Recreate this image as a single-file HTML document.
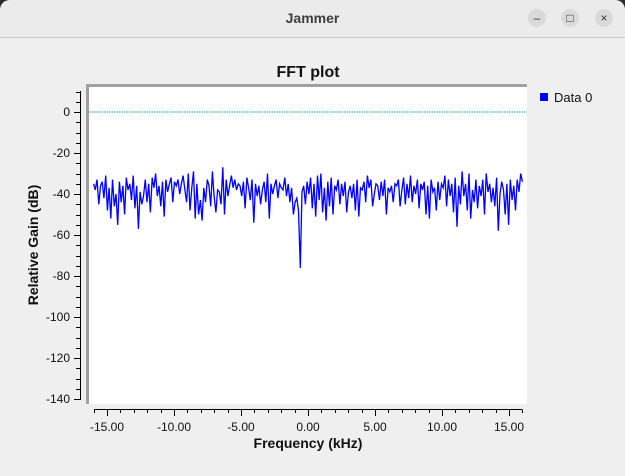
<!DOCTYPE html>
<html><head><meta charset="utf-8"><style>
body{margin:0;width:625px;height:476px;overflow:hidden;background:#2c2c2c;font-family:"Liberation Sans","DejaVu Sans",sans-serif}
#win{position:absolute;left:0;top:0;width:625px;height:476px;background:#efefef;border-radius:10px 10px 0 0;overflow:hidden}
#tb{position:absolute;left:0;top:0;width:625px;height:37px;background:#ebebeb;border-bottom:1px solid #c8c8c8}
#tt{position:absolute;left:0;width:625px;top:10px;text-align:center;font-size:14px;font-weight:bold;color:#3d3d3d}
.wb{position:absolute;top:9px;width:18px;height:18px;border-radius:9px;background:#dadada;color:#333;font-size:12px;text-align:center;line-height:18px}
</style></head><body>
<div id="win">
<div id="tb">
<div id="tt">Jammer</div>
<div class="wb" style="left:528px">–</div>
<div class="wb" style="left:561px">□</div>
<div class="wb" style="left:595px">×</div>
</div>
<svg id="chart" width="625" height="476" style="position:absolute;left:0;top:0"></svg>
</div>
<script>
const yTicks=[0,-20,-40,-60,-80,-100,-120,-140];
const yTickLabels=["0","-20","-40","-60","-80","-100","-120","-140"];
const xTicks=[-15,-10,-5,0,5,10,15];
const xTickLabels=["-15.00","-10.00","-5.00","0.00","5.00","10.00","15.00"];
const seriesName="Data 0";
const refLine=0;
const fStart=-16, fEnd=16;
const gains=[-35,-38,-33,-45,-36,-34,-42,-31,-48,-37,-52,-33,-46,-40,-55,-34,-44,-36,-50,-32,-38,-35,-43,-31,-47,-36,-57,-39,-45,-41,-33,-44,-35,-49,-32,-37,-30,-41,-36,-46,-34,-51,-33,-39,-35,-32,-44,-34,-36,-33,-40,-35,-31,-38,-44,-30,-48,-37,-29,-52,-35,-50,-43,-53,-37,-44,-33,-36,-46,-29,-41,-49,-38,-39,-45,-27,-50,-33,-41,-36,-31,-37,-33,-38,-35,-36,-41,-34,-47,-32,-37,-43,-33,-54,-35,-41,-36,-45,-38,-34,-44,-30,-52,-35,-40,-36,-33,-42,-35,-37,-38,-32,-41,-35,-44,-37,-50,-44,-42,-48,-76,-39,-36,-45,-34,-40,-32,-47,-35,-51,-31,-43,-30,-49,-37,-53,-34,-46,-32,-50,-36,-38,-33,-45,-35,-41,-34,-49,-39,-36,-42,-35,-48,-33,-51,-37,-38,-34,-44,-31,-37,-33,-46,-40,-35,-36,-43,-34,-41,-33,-50,-37,-39,-36,-44,-35,-36,-33,-46,-38,-32,-45,-35,-42,-31,-44,-36,-40,-33,-47,-35,-38,-34,-50,-36,-52,-33,-39,-37,-48,-34,-43,-35,-37,-31,-46,-33,-41,-35,-49,-32,-56,-36,-45,-29,-41,-35,-48,-30,-52,-38,-44,-33,-47,-36,-41,-33,-50,-30,-39,-35,-44,-37,-46,-32,-58,-40,-34,-38,-50,-35,-55,-33,-43,-36,-48,-33,-39,-30,-34];
const NS="http://www.w3.org/2000/svg";
const svg=document.getElementById('chart');
const L=88,R=527,T=86,B=404;
const xScale=f=>308+(f-0)*13.4;
const yScale=v=>112-v*2.05;
function mk(tag,attrs,text){const e=document.createElementNS(NS,tag);for(const k in attrs)e.setAttribute(k,attrs[k]);if(text!==undefined)e.textContent=text;svg.appendChild(e);return e;}
let e;
e=mk('rect',{x:L,y:T,width:R-L,height:B-T,fill:'#fff'});


e=mk('path',{d:`M${L-0.5},${B} V${T-0.5} H${R}`,stroke:'#a0a0a0','stroke-width':3,fill:'none'});


e=mk('text',{x:308,y:77,'text-anchor':'middle','font-size':16,'font-weight':'bold',fill:'#111'},'FFT plot');


e=mk('line',{x1:80.5,y1:91,x2:80.5,y2:400,stroke:'#000'});


for(let v=10;v>=-140;v-=5){const y=Math.round(yScale(v))+0.5;const major=v%20===0;
 e=mk('line',{x1:major?74:76,y1:y,x2:80.5,y2:y,stroke:'#000'});
 
 }
yTicks.forEach((v,i)=>{e=mk('text',{x:70,y:yScale(v)+4,'text-anchor':'end','font-size':12,fill:'#111'},yTickLabels[i]);
 
 });
e=mk('text',{x:0,y:0,transform:'translate(38,245) rotate(-90)','text-anchor':'middle','font-size':14,'font-weight':'bold',fill:'#111'},'Relative Gain (dB)');


e=mk('line',{x1:94,y1:409.5,x2:522,y2:409.5,stroke:'#000'});


for(let f=-16;f<=16;f+=1){const x=Math.round(xScale(f))+0.5;const major=f%5===0;
 e=mk('line',{x1:x,y1:409.5,x2:x,y2:major?416:413,stroke:'#000'});
 
 }
xTicks.forEach((f,i)=>{e=mk('text',{x:xScale(f),y:431,'text-anchor':'middle','font-size':12,fill:'#111'},xTickLabels[i]);
 
 });
e=mk('text',{x:308,y:448,'text-anchor':'middle','font-size':14,'font-weight':'bold',fill:'#111'},'Frequency (kHz)');


e=mk('line',{x1:L+1,y1:yScale(refLine),x2:R,y2:yScale(refLine),stroke:'#00a0b0','stroke-dasharray':'1.5,1','stroke-width':1});


const n=gains.length;
const pts=gains.map((v,i)=>`${xScale(fStart+(fEnd-fStart)*i/(n-1)).toFixed(1)},${yScale(v).toFixed(1)}`).join(' ');
e=mk('polyline',{points:pts,fill:'none',stroke:'#0000ff','stroke-width':1.3});


e=mk('rect',{x:540,y:93,width:8,height:8,fill:'#0000ff'});


e=mk('text',{x:554,y:102,'font-size':13,fill:'#111'},seriesName);


</script>
</body></html>
